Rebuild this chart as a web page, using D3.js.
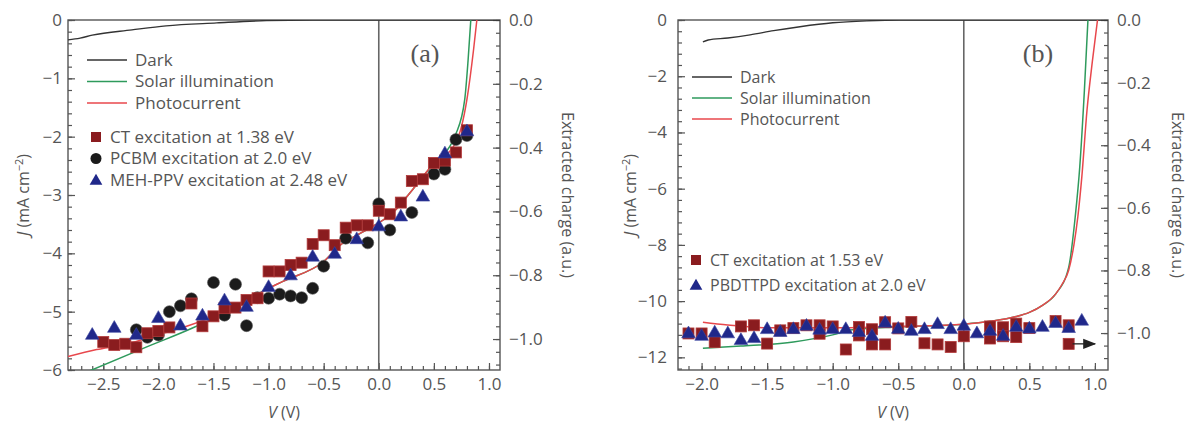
<!DOCTYPE html>
<html>
<head>
<meta charset="utf-8">
<script src="https://cdn.jsdelivr.net/npm/d3@7/dist/d3.min.js"></script>
<style>
  body { margin: 0; background: #fff; }
  svg text { font-family: "Open Sans", sans-serif; fill: #555; }
</style>
</head>
<body>
<svg id="chart" width="1190" height="423"></svg>
<script>
// ---- panel (a) : J (mA cm-2) vs V (V) ----
var darkA  = [[-2.82,-0.34],[-2.71,-0.31],[-2.6,-0.26],[-2.24,-0.17],[-1.93,-0.1],[-1.47,-0.05],[-1.02,-0.01],[-0.6,0],[1.1,0]];
var solarA = [[-2.63,-6.02],[-2.1,-5.6],[-1.69,-5.28],[-1.4,-5.02],[-1.02,-4.62],[-0.87,-4.48],[-0.5,-4.14],[-0.35,-3.86],[-0.2,-3.69],[-0.02,-3.5],[0.13,-3.3],[0.31,-2.9],[0.48,-2.5],[0.7,-1.95],[0.78,-1.36],[0.81,-0.7],[0.835,0]];
var photoA = [[-2.82,-5.77],[-2.56,-5.65],[-2.32,-5.57],[-2.01,-5.4],[-1.71,-5.23],[-1.32,-4.94],[-1.02,-4.62],[-0.87,-4.48],[-0.5,-4.14],[-0.35,-3.86],[-0.2,-3.69],[-0.02,-3.5],[0.13,-3.3],[0.31,-2.9],[0.48,-2.5],[0.7,-2.1],[0.8,-1.36],[0.86,-0.51],[0.89,0]];
var ctA   = [[-2.5,-5.52],[-2.4,-5.57],[-2.3,-5.55],[-2.2,-5.61],[-2.1,-5.37],[-2.0,-5.33],[-1.9,-5.27],[-1.7,-4.86],[-1.6,-5.25],[-1.5,-5.08],[-1.4,-4.94],[-1.3,-4.93],[-1.2,-4.8],[-1.1,-4.77],[-1.0,-4.31],[-0.9,-4.31],[-0.8,-4.2],[-0.7,-4.16],[-0.6,-3.84],[-0.5,-3.69],[-0.4,-3.86],[-0.3,-3.56],[-0.2,-3.52],[-0.1,-3.52],[0.0,-3.27],[0.1,-3.33],[0.2,-3.13],[0.3,-2.76],[0.4,-2.73],[0.5,-2.45],[0.6,-2.41],[0.7,-2.27],[0.8,-1.89]];
var pcbmA = [[-2.2,-5.31],[-2.1,-5.44],[-2.0,-5.4],[-1.9,-5.0],[-1.8,-4.9],[-1.7,-4.78],[-1.5,-4.5],[-1.4,-5.06],[-1.3,-4.53],[-1.2,-5.24],[-1.1,-4.76],[-1.0,-4.77],[-0.9,-4.7],[-0.8,-4.73],[-0.7,-4.76],[-0.6,-4.6],[-0.5,-4.22],[-0.3,-3.74],[-0.1,-3.82],[0.0,-3.15],[0.1,-3.6],[0.3,-3.3],[0.5,-2.64],[0.6,-2.56],[0.7,-2.05],[0.8,-1.98]];
var mehA  = [[-2.6,-5.39],[-2.4,-5.27],[-2.2,-5.39],[-2.0,-5.1],[-1.8,-5.23],[-1.6,-5.06],[-1.4,-4.8],[-1.2,-4.91],[-1.0,-4.57],[-0.8,-4.37],[-0.6,-4.05],[-0.4,-4.0],[-0.2,-3.75],[0.0,-3.53],[0.2,-3.36],[0.4,-3.02],[0.6,-2.28],[0.8,-1.9]];

// ---- panel (b) ----
var darkB  = [[-1.99,-0.78],[-1.95,-0.71],[-1.8,-0.64],[-1.63,-0.53],[-1.45,-0.38],[-1.25,-0.24],[-1.0,-0.1],[-0.74,-0.03],[-0.49,0],[1.1,0]];
var solarB = [[-1.99,-11.68],[-1.7,-11.6],[-1.3,-11.45],[-1.0,-11.2],[-0.85,-11.02],[-0.5,-10.92],[0.0,-10.82],[0.2,-10.72],[0.4,-10.55],[0.5,-10.4],[0.6,-10.15],[0.7,-9.75],[0.8,-8.8],[0.85,-7.0],[0.885,-5.2],[0.92,-2.5],[0.947,0]];
var photoB = [[-1.99,-10.75],[-1.8,-10.85],[-1.5,-10.95],[-1.0,-10.95],[-0.5,-10.9],[0.0,-10.82],[0.2,-10.72],[0.4,-10.55],[0.5,-10.4],[0.6,-10.15],[0.7,-9.75],[0.75,-9.4],[0.8,-8.9],[0.84,-8.0],[0.87,-7.0],[0.9,-5.6],[0.94,-3.2],[0.98,-1.5],[1.02,0]];
var ctB  = [[-2.1,-11.15],[-2.0,-11.15],[-1.9,-11.46],[-1.7,-10.9],[-1.6,-10.86],[-1.5,-11.51],[-1.4,-11.04],[-1.3,-10.96],[-1.2,-10.86],[-1.1,-10.86],[-1.1,-11.16],[-1.0,-10.9],[-0.9,-11.72],[-0.8,-10.92],[-0.8,-11.22],[-0.7,-11.0],[-0.7,-11.54],[-0.6,-10.75],[-0.6,-11.54],[-0.5,-10.97],[-0.4,-10.74],[-0.3,-11.5],[-0.2,-11.54],[-0.1,-11.63],[0.0,-11.25],[0.2,-10.9],[0.2,-11.33],[0.3,-10.93],[0.3,-11.25],[0.4,-10.8],[0.4,-11.28],[0.5,-10.96],[0.7,-10.71],[0.8,-10.86],[0.8,-11.52]];
var pbdB = [[-2.1,-11.13],[-2.0,-11.22],[-1.9,-11.1],[-1.8,-11.13],[-1.7,-11.37],[-1.6,-11.3],[-1.5,-10.98],[-1.4,-11.08],[-1.3,-10.98],[-1.2,-10.86],[-1.1,-11.0],[-1.0,-10.98],[-0.9,-10.98],[-0.8,-11.08],[-0.7,-11.22],[-0.6,-10.75],[-0.5,-10.97],[-0.4,-11.04],[-0.3,-10.98],[-0.2,-10.8],[-0.1,-10.98],[0.0,-10.86],[0.1,-11.13],[0.2,-11.04],[0.3,-11.22],[0.4,-10.9],[0.5,-10.96],[0.6,-10.9],[0.7,-10.76],[0.8,-10.94],[0.9,-10.68]];
var arrowB = [[0.83,-11.52],[1.0,-11.52]];

// tick labels
var xTicksA  = [-2.5,-2.0,-1.5,-1.0,-0.5,0.0,0.5,1.0];
var yTicksA  = [0,-1,-2,-3,-4,-5,-6];
var xTicksB  = [-2.0,-1.5,-1.0,-0.5,0.0,0.5,1.0];
var yTicksB  = [0,-2,-4,-6,-8,-10,-12];
var rTicks   = [0.0,-0.2,-0.4,-0.6,-0.8,-1.0];

var legendLines = ['Dark','Solar illumination','Photocurrent'];
var legendMarkersA = ['CT excitation at 1.38 eV','PCBM excitation at 2.0 eV','MEH-PPV excitation at 2.48 eV'];
var legendMarkersB = ['CT excitation at 1.53 eV','PBDTTPD excitation at 2.0 eV'];

var C = { dark:'#333', solar:'#2e9a5c', photo:'#e8474c', sq:'#8a1c1f', sqEdge:'#b23a3a', circ:'#1b1b1b', tri:'#20288a', axis:'#555' };

var svg = d3.select('#chart');

svg.append('defs').append('marker')
  .attr('id','arrow').attr('viewBox','0 0 10 10').attr('refX',9).attr('refY',5)
  .attr('markerWidth',10).attr('markerHeight',10).attr('orient','auto')
  .append('path').attr('d','M0,1 L10,5 L0,9 Z').attr('fill','#222');

var fmt1 = d3.format('.1f');

var drawPanel = function(p) {

  var g = svg.append('g').attr('class','panel');

  var x  = d3.scaleLinear().domain(p.xDomain).range([p.left, p.right]);
  var y  = d3.scaleLinear().domain(p.yDomain).range([p.bottom, p.top]);
  var yR = d3.scaleLinear().domain(p.rDomain).range([p.bottom, p.top]);

  g.append('clipPath').attr('id','clip-'+p.id)
    .append('rect').attr('x',p.left).attr('y',p.top)
    .attr('width',p.right-p.left).attr('height',p.bottom-p.top);

  // minor ticks
  g.append('g').attr('transform','translate(0,'+p.bottom+')')
    .call(d3.axisBottom(x).tickValues(p.xMinor).tickSize(-4).tickFormat(''));
  g.append('g').attr('transform','translate('+p.left+',0)')
    .call(d3.axisLeft(y).tickValues(p.yMinor).tickSize(-4).tickFormat(''));
  g.append('g').attr('transform','translate('+p.right+',0)')
    .call(d3.axisRight(yR).tickValues(p.rMinor).tickSize(-4).tickFormat(''));

  // major ticks
  g.append('g').attr('class','x-axis').attr('transform','translate(0,'+p.bottom+')')
    .call(d3.axisBottom(x).tickValues(p.xTicks).tickSize(-7).tickPadding(8).tickFormat(fmt1));
  g.append('g').attr('class','y-axis').attr('transform','translate('+p.left+',0)')
    .call(d3.axisLeft(y).tickValues(p.yTicks).tickSize(-7).tickPadding(p.yPad).tickFormat(d3.format('d')));
  g.append('g').attr('class','r-axis').attr('transform','translate('+p.right+',0)')
    .call(d3.axisRight(yR).tickValues(rTicks).tickSize(-7).tickPadding(9).tickFormat(fmt1));

  g.selectAll('.tick text').style('font-size','17px').attr('fill',C.axis);
  g.selectAll('.tick line').attr('stroke',C.axis).attr('stroke-width',1.2);
  g.selectAll('.domain').remove();

  // frame
  g.append('rect').attr('x',p.left).attr('y',p.top)
    .attr('width',p.right-p.left).attr('height',p.bottom-p.top)
    .attr('fill','none').attr('stroke',C.axis).attr('stroke-width',1.4);

  // V = 0 line
  g.append('line')
    .attr('x1',x(0)).attr('x2',x(0)).attr('y1',p.top).attr('y2',p.bottom)
    .attr('stroke','#666').attr('stroke-width',1.6);

  var plot = g.append('g').attr('clip-path','url(#clip-'+p.id+')');
  var line = d3.line().x(function(d){ return x(d[0]); }).y(function(d){ return y(d[1]); }).curve(d3.curveMonotoneX);

  plot.append('path').datum(p.dark).attr('d',line).attr('fill','none').attr('stroke',C.dark).attr('stroke-width',1.4);
  plot.append('path').datum(p.solar).attr('d',line).attr('fill','none').attr('stroke',C.solar).attr('stroke-width',1.5);
  plot.append('path').datum(p.photo).attr('d',line).attr('fill','none').attr('stroke',C.photo).attr('stroke-width',1.5);

  var tri = d3.symbol().type(d3.symbolTriangle).size(p.triSize);

  // draw order (back to front) as listed in p.series
  p.series.forEach(function(s) {
    if (s.kind === 'circle') {
      plot.selectAll('.c-'+s.name).data(s.data).enter().append('circle')
        .attr('cx',function(d){ return x(d[0]); })
        .attr('cy',function(d){ return y(d[1]); })
        .attr('r',p.circR).attr('fill',C.circ).attr('stroke','#555').attr('stroke-width',0.6);
    } else if (s.kind === 'square') {
      plot.selectAll('.s-'+s.name).data(s.data).enter().append('rect')
        .attr('x',function(d){ return x(d[0]) - p.sqSize/2; })
        .attr('y',function(d){ return y(d[1]) - p.sqSize/2; })
        .attr('width',p.sqSize).attr('height',p.sqSize)
        .attr('fill',C.sq).attr('stroke',C.sqEdge).attr('stroke-width',0.8);
    } else {
      plot.selectAll('.t-'+s.name).data(s.data).enter().append('path')
        .attr('d',tri)
        .attr('transform',function(d){ return 'translate('+x(d[0])+','+(y(d[1])+1)+')'; })
        .attr('fill',C.tri).attr('stroke','#3a44a0').attr('stroke-width',0.6);
    }
  });

  if (p.arrow) {
    plot.append('line')
      .attr('x1',x(p.arrow[0][0])).attr('y1',y(p.arrow[0][1]))
      .attr('x2',x(p.arrow[1][0])).attr('y2',y(p.arrow[1][1]))
      .attr('stroke','#222').attr('stroke-width',1.3).attr('marker-end','url(#arrow)');
  }

  // axis titles
  var yt = g.append('text')
    .attr('transform','translate('+p.yTitleX+','+((p.top+p.bottom)/2)+') rotate(-90)')
    .attr('text-anchor','middle').style('font-size','16px');
  yt.append('tspan').style('font-style','italic').text('J');
  yt.append('tspan').text(' (mA cm');
  yt.append('tspan').attr('dy',-6).style('font-size','11px').text('−2');
  yt.append('tspan').attr('dy',6).text(')');

  g.append('text')
    .attr('transform','translate('+p.rTitleX+','+((p.top+p.bottom)/2)+') rotate(90)')
    .attr('text-anchor','middle').style('font-size','16px')
    .text('Extracted charge (a.u.)');

  var xt = g.append('text')
    .attr('x',(p.left+p.right)/2).attr('y',418)
    .attr('text-anchor','middle').style('font-size','16px');
  xt.append('tspan').style('font-style','italic').text('V');
  xt.append('tspan').text(' (V)');

  // panel tag
  g.append('text')
    .attr('x',p.tag[0]).attr('y',p.tag[1]).attr('text-anchor','middle')
    .style('font-family','"Liberation Serif", "Times New Roman", serif')
    .style('font-size','26px').attr('fill','#111')
    .text(p.tag[2]);

  // legend: lines
  var lcol = [C.dark, C.solar, C.photo];
  legendLines.forEach(function(t, i) {
    var ly = p.legLines.y + i*p.legLines.dy;
    g.append('line').attr('x1',p.legLines.x).attr('x2',p.legLines.x+40)
      .attr('y1',ly).attr('y2',ly).attr('stroke',lcol[i]).attr('stroke-width',1.4);
    g.append('text').attr('x',p.legLines.x+48).attr('y',ly).attr('dy','0.35em')
      .style('font-size',p.legFont).text(t);
  });

  // legend: markers
  p.legendOrder.forEach(function(k, i) {
    var s = p.series[k];
    var mx = p.legMarks.x, my = p.legMarks.y + i*p.legMarks.dy;
    if (s.kind === 'circle') {
      g.append('circle').attr('cx',mx).attr('cy',my).attr('r',5.5).attr('fill',C.circ);
    } else if (s.kind === 'square') {
      g.append('rect').attr('x',mx-5).attr('y',my-5).attr('width',10).attr('height',10).attr('fill',C.sq);
    } else {
      g.append('path').attr('d',d3.symbol().type(d3.symbolTriangle).size(70))
        .attr('transform','translate('+mx+','+(my+1)+')').attr('fill',C.tri);
    }
    g.append('text').attr('x',mx+14).attr('y',my).attr('dy','0.35em')
      .style('font-size',p.legFont).text(s.label);
  });
};

drawPanel({
  id:'a', left:68, right:500, top:20, bottom:370,
  xDomain:[-2.82,1.1], yDomain:[-6,0], rDomain:[-1.097,0],
  xTicks:xTicksA, yTicks:yTicksA, yPad:6,
  xMinor:d3.range(-28,11).map(function(i){ return i/10; }),
  yMinor:d3.range(-30,1).map(function(i){ return i/5; }),
  rMinor:d3.range(-27,1).map(function(i){ return i*0.04; }),
  dark:darkA, solar:solarA, photo:photoA,
  series:[
    {name:'pcbm', kind:'circle', data:pcbmA, label:legendMarkersA[1]},
    {name:'ct',   kind:'square', data:ctA,   label:legendMarkersA[0]},
    {name:'meh',  kind:'tri',    data:mehA,  label:legendMarkersA[2]}
  ],
  legendOrder:[1,0,2],
  sqSize:11, circR:6, triSize:80,
  yTitleX:29, rTitleX:562,
  tag:[425,62,'(a)'],
  legFont:'17px',
  legLines:{x:87, y:60, dy:21.5},
  legMarks:{x:96, y:137, dy:21.5}
});

drawPanel({
  id:'b', left:678, right:1108, top:20, bottom:370,
  xDomain:[-2.18,1.1], yDomain:[-12.45,0], rDomain:[-1.118,0],
  xTicks:xTicksB, yTicks:yTicksB, yPad:11,
  xMinor:d3.range(-21,11).map(function(i){ return i/10; }),
  yMinor:d3.range(-31,1).map(function(i){ return i*0.4; }),
  rMinor:d3.range(-27,1).map(function(i){ return i*0.04; }),
  dark:darkB, solar:solarB, photo:photoB,
  series:[
    {name:'ct',  kind:'square', data:ctB,  label:legendMarkersB[0]},
    {name:'pbd', kind:'tri',    data:pbdB, label:legendMarkersB[1]}
  ],
  legendOrder:[0,1],
  sqSize:11, circR:6, triSize:80,
  arrow:arrowB,
  yTitleX:636, rTitleX:1172,
  tag:[1038,62,'(b)'],
  legFont:'16px',
  legLines:{x:692, y:77, dy:21},
  legMarks:{x:696, y:260, dy:25}
});
</script>
</body>
</html>
